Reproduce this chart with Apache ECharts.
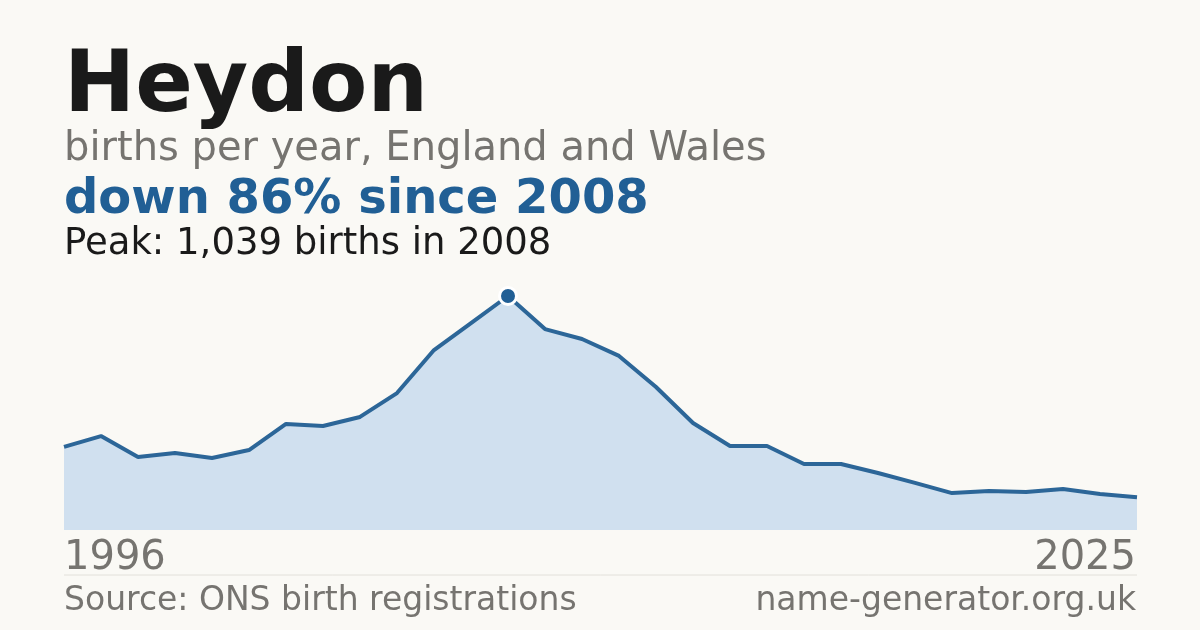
<!DOCTYPE html>
<html>
<head>
<meta charset="utf-8">
<script src="https://cdn.jsdelivr.net/npm/echarts@6/dist/echarts.min.js"></script>
<style>
  html, body { margin: 0; padding: 0; background: #faf9f5; }
  #chart { width: 1200px; height: 630px; }
</style>
</head>
<body>
<div id="chart"></div>
<script>
// births per year
var years = ['1996','1997','1998','1999','2000','2001','2002','2003','2004','2005',
             '2006','2007','2008','2009','2010','2011','2012','2013','2014','2015',
             '2016','2017','2018','2019','2020','2021','2022','2023','2024','2025'];
var births = [369, 417, 324, 342, 320, 355, 471, 462, 502, 608,
              799, 919, 1039, 892, 848, 773, 635, 475, 373, 373,
              293, 293, 253, 209, 164, 173, 169, 182, 160, 145];
var peakYear = '2008';
var peakValue = 1039;

var font = 'DejaVu Sans';
var chart = echarts.init(document.getElementById('chart'));

chart.setOption({
    backgroundColor: '#faf9f5',
    animation: false,
    grid: { left: 64, right: 63, top: 296, bottom: 100 },
    xAxis: {
        type: 'category',
        data: years,
        boundaryGap: false,
        axisLine: { show: false },
        axisTick: { show: false },
        axisLabel: { show: false }
    },
    yAxis: {
        type: 'value',
        min: 0,
        max: peakValue,
        show: false,
        splitLine: { show: false }
    },
    series: [{
        type: 'line',
        data: births,
        symbol: 'none',
        lineStyle: { color: '#2c6698', width: 4 },
        areaStyle: { color: '#d0e0ef', opacity: 1 },
        markPoint: {
            symbol: 'circle',
            symbolSize: 17,
            itemStyle: { color: '#215f95', borderColor: '#ffffff', borderWidth: 3 },
            label: { show: false },
            data: [{ coord: [peakYear, peakValue] }]
        }
    }],
    graphic: [
        { type: 'text', left: 64, top: 46, style: { text: 'Heydon', font: 'bold 85px ' + font, fill: '#1a1a1a' } },
        { type: 'text', left: 64, top: 130, style: { text: 'births per year, England and Wales', font: '40px ' + font, fill: '#767470' } },
        { type: 'text', left: 64, top: 177, style: { text: 'down 86% since 2008', font: 'bold 48px ' + font, fill: '#215f95' } },
        { type: 'text', left: 64, top: 226, style: { text: 'Peak: 1,039 births in 2008', font: '37px ' + font, fill: '#1a1a1a' } },
        { type: 'text', left: 64, top: 539, style: { text: years[0], font: '40px ' + font, fill: '#767470' } },
        { type: 'text', right: 64, top: 539, style: { text: years[years.length - 1], font: '40px ' + font, fill: '#767470', align: 'right' } },
        { type: 'line', shape: { x1: 64, y1: 575, x2: 1137, y2: 575 }, style: { stroke: '#e2e0da', lineWidth: 1 } },
        { type: 'text', left: 64, top: 585, style: { text: 'Source: ONS birth registrations', font: '33px ' + font, fill: '#767470' } },
        { type: 'text', right: 64, top: 585, style: { text: 'name-generator.org.uk', font: '33px ' + font, fill: '#767470', align: 'right' } }
    ]
});
</script>
</body>
</html>
